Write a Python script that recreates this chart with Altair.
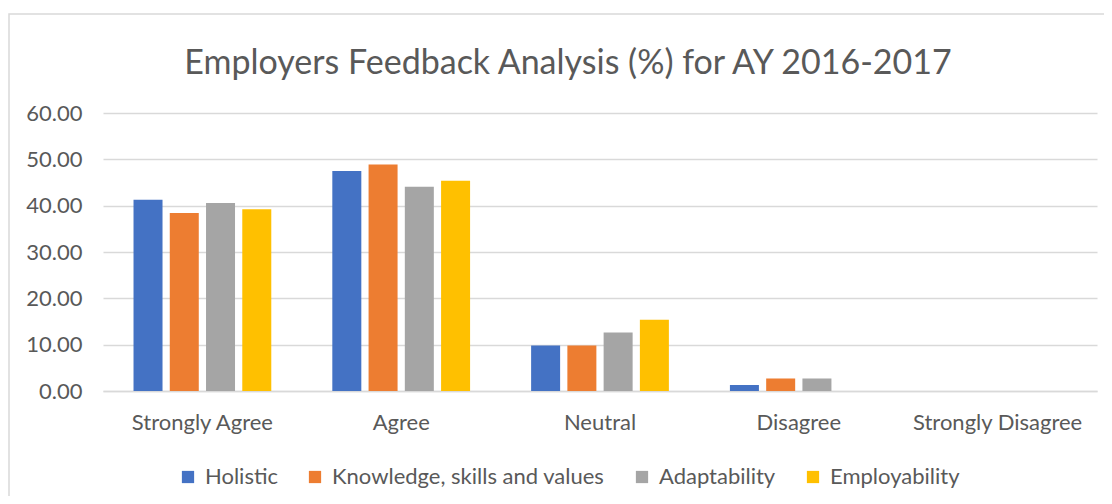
import altair as alt
import pandas as pd

categories = ["Strongly Agree", "Agree", "Neutral", "Disagree", "Strongly Disagree"]
series = ["Holistic", "Knowledge, skills and values", "Adaptability", "Employability"]
colors = ["#4472C4", "#ED7D31", "#A5A5A5", "#FFC000"]
holistic = [41.3, 47.5, 9.8, 1.3, 0.0]
knowledge = [38.4, 48.9, 9.8, 2.7, 0.0]
adaptability = [40.6, 44.1, 12.6, 2.7, 0.0]
employability = [39.2, 45.4, 15.4, 0.0, 0.0]
title_text = "Employers Feedback Analysis (%) for AY 2016-2017"

rows = []
for s, vals in zip(series, [holistic, knowledge, adaptability, employability]):
    for c, v in zip(categories, vals):
        rows.append({"Category": c, "Series": s, "Value": v})
df = pd.DataFrame(rows)

FONT = "Lato"
GREY = "#595959"

bars = alt.Chart(df).mark_bar().encode(
    x=alt.X("Category:N", sort=categories,
            scale=alt.Scale(paddingInner=0.307, paddingOuter=0.1535),
            axis=alt.Axis(title=None, labelAngle=0, ticks=False, domain=True,
                          domainColor="#d9d9d9", domainWidth=1.5,
                          labelFontSize=22, labelColor=GREY, labelFont=FONT,
                          labelPadding=21)),
    xOffset=alt.XOffset("Series:N", sort=series,
                        scale=alt.Scale(paddingInner=0.2, paddingOuter=0)),
    y=alt.Y("Value:Q", scale=alt.Scale(domain=[0, 60]),
            axis=alt.Axis(title=None, values=[0, 10, 20, 30, 40, 50, 60], format=".2f",
                          ticks=False, domain=False, gridColor="#d9d9d9", gridWidth=1.5,
                          labelFontSize=22, labelColor=GREY, labelFont=FONT,
                          labelPadding=21)),
    color=alt.Color("Series:N", sort=series,
                    scale=alt.Scale(domain=series, range=colors),
                    legend=alt.Legend(title=None, orient="none", legendX=74, legendY=353,
                                      direction="horizontal", columns=4,
                                      symbolType="square", symbolSize=150,
                                      symbolStrokeWidth=0, labelFontSize=22,
                                      labelColor=GREY, labelFont=FONT, labelLimit=0,
                                      columnPadding=26, labelOffset=6)),
)

border = alt.Chart(pd.DataFrame({"a": [0]})).mark_rect(
    fill=None, stroke="#d9d9d9", strokeWidth=1.5, clip=False
).encode(x=alt.value(-94), x2=alt.value(1030), y=alt.value(-99), y2=alt.value(420))

title = alt.Chart(pd.DataFrame({"t": [title_text]})).mark_text(
    font=FONT, fontSize=34, color=GREY, align="center", baseline="alphabetic"
).encode(text="t:N", x=alt.value(465), y=alt.value(-39))

chart = alt.layer(border, title, bars).properties(
    width=994, height=278,
    autosize=alt.AutoSizeParams(type="none"),
    padding={"left": 95, "top": 105, "right": 7, "bottom": 105},
).configure_view(stroke=None)

chart.save("out.html", embed_options={"renderer": "svg", "actions": False})
